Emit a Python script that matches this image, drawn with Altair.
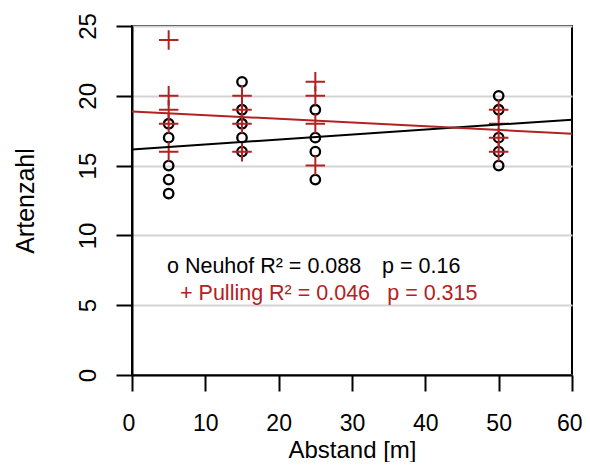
import altair as alt
import pandas as pd

# Neuhof (circles)
neu_x = [5, 5, 5, 5, 5, 15, 15, 15, 15, 15, 25, 25, 25, 25, 50, 50, 50, 50, 50]
neu_y = [18, 17, 15, 14, 13, 21, 19, 18, 17, 16, 19, 17, 16, 14, 20, 19, 17, 16, 15]
# Pulling (crosses)
pul_x = [5, 5, 5, 5, 5, 15, 15, 15, 15, 25, 25, 25, 25, 50, 50, 50, 50]
pul_y = [24, 20, 19, 18, 16, 20, 19, 18, 16, 21, 20, 18, 15, 19, 18, 17, 16]

# regression lines (intercept, slope)
fit_names = ["Neuhof", "Pulling"]
fit_intercept = [16.15, 18.88]
fit_slope = [0.0357, -0.0266]
line_x = [0, 60]

# annotation texts
ann_text = ["o Neuhof R² = 0.088", "p = 0.16", "+ Pulling R² = 0.046", "p = 0.315"]
ann_x = [4.77, 34.1, 6.55, 34.8]
ann_y = [7.31, 7.31, 5.37, 5.37]
ann_group = ["Neuhof", "Neuhof", "Pulling", "Pulling"]

RED = "#B22222"
FONT = "Liberation Sans"

neu = pd.DataFrame({"x": neu_x, "y": neu_y})
pul = pd.DataFrame({"x": pul_x, "y": pul_y})
rows = []
for n, a, b in zip(fit_names, fit_intercept, fit_slope):
    for xv in line_x:
        rows.append({"group": n, "x": xv, "y": a + b * xv})
lines = pd.DataFrame(rows)
ann = pd.DataFrame({"t": ann_text, "x": ann_x, "y": ann_y, "g": ann_group})

xs = alt.Scale(domain=[0, 60], nice=False, zero=False)
ys = alt.Scale(domain=[0, 25], nice=False, zero=False)
color_scale = alt.Scale(domain=fit_names, range=["black", RED])

xax = alt.Axis(values=[0, 10, 20, 30, 40, 50, 60], grid=False, tickSize=16, tickWidth=2,
               tickColor="black", domainColor="black", domainWidth=2,
               labelFont=FONT, labelFontSize=23, labelColor="black", labelPadding=21,
               labelBaseline="top", labelFlush=True, labelFlushOffset=10,
               title="Abstand [m]", titleFont=FONT, titleFontSize=24, titleFontWeight="normal",
               titleColor="black", titleY=82, titleBaseline="alphabetic")
yax = alt.Axis(values=[0, 5, 10, 15, 20, 25], grid=True, gridColor="#d3d3d3", gridWidth=2,
               tickSize=16, tickWidth=2, tickColor="black", domainColor="black", domainWidth=2,
               labelFont=FONT, labelFontSize=24, labelColor="black", labelAngle=270,
               labelAlign="center", labelBaseline="alphabetic", labelPadding=21, labelFlush=False,
               title="Artenzahl", titleFont=FONT, titleFontSize=25, titleFontWeight="normal",
               titleColor="black", titleAngle=270, titleAlign="center", titleBaseline="alphabetic",
               titleX=-99, titleY=174.5)

circles = alt.Chart(neu).mark_point(shape="circle", filled=False, color="black",
                                    strokeWidth=2.3, size=90, opacity=1).encode(
    x=alt.X("x:Q", scale=xs, axis=xax),
    y=alt.Y("y:Q", scale=ys, axis=yax),
)
crosses = alt.Chart(pul).mark_point(shape="M-1,0L1,0M0,-1L0,1", filled=False, color=RED,
                                    strokeWidth=2, size=380, opacity=1).encode(
    x=alt.X("x:Q", scale=xs),
    y=alt.Y("y:Q", scale=ys),
)
reg = alt.Chart(lines).mark_line(strokeWidth=2).encode(
    x=alt.X("x:Q", scale=xs),
    y=alt.Y("y:Q", scale=ys),
    color=alt.Color("group:N", scale=color_scale, legend=None),
    detail="group:N",
)
txt = alt.Chart(ann).mark_text(align="left", baseline="alphabetic", font=FONT, fontSize=21.5).encode(
    x=alt.X("x:Q", scale=xs),
    y=alt.Y("y:Q", scale=ys),
    text="t:N",
    color=alt.Color("g:N", scale=color_scale, legend=None),
)

chart = alt.layer(circles, crosses, reg, txt).properties(
    width=440, height=349,
    autosize=alt.AutoSizeParams(type="none"),
    padding={"left": 124, "top": 18, "right": 10, "bottom": 87},
    background="white",
).configure_view(stroke="black", strokeWidth=2)

chart.save("out.html", embed_options={"renderer": "svg", "actions": False})
